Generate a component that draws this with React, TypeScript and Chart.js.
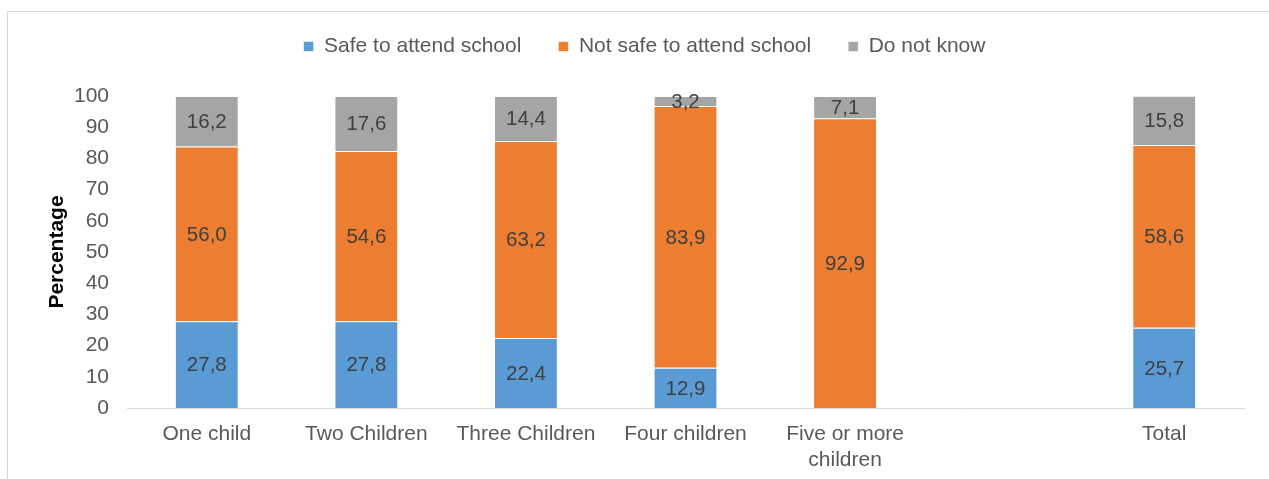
import React, { useEffect, useRef } from "react";
import { Chart, registerables } from "chart.js";

Chart.register(...registerables);

const categories: (string | string[])[] = [
  "One child",
  "Two Children",
  "Three Children",
  "Four children",
  ["Five or more", "children"],
  "",
  "Total",
];
const safeValues: (number | null)[] = [27.8, 27.8, 22.4, 12.9, 0, null, 25.7];
const notSafeValues: (number | null)[] = [56.0, 54.6, 63.2, 83.9, 92.9, null, 58.6];
const dontKnowValues: (number | null)[] = [16.2, 17.6, 14.4, 3.2, 7.1, null, 15.8];
const seriesNames = ["Safe to attend school", "Not safe to attend school", "Do not know"];
const seriesColors = ["#5B9BD5", "#ED7D31", "#A5A5A5"];
const yTicks = { min: 0, max: 100, step: 10 };

const FONT = "'Liberation Sans', Arial, sans-serif";
const FS = 21;
const LEGEND_PAD = 37;
const PAD_LEFT = 45;

const valueLabels = {
  id: "valueLabels",
  afterDatasetsDraw(chart: any) {
    const ctx = chart.ctx;
    ctx.save();
    ctx.font = `20.5px ${FONT}`;
    ctx.fillStyle = "#404040";
    ctx.textAlign = "center";
    ctx.textBaseline = "middle";
    chart.data.datasets.forEach((ds: any, di: number) => {
      const meta = chart.getDatasetMeta(di);
      meta.data.forEach((el: any, i: number) => {
        const v = ds.data[i];
        if (v === null || v === undefined || v <= 0) return;
        const y = (el.y + el.base) / 2;
        ctx.fillText(v.toFixed(1).replace(".", ","), el.x, y + 1);
      });
    });
    ctx.restore();
  },
};

const legendFit = {
  id: "legendFit",
  beforeLayout(chart: any) {
    const lg = chart.legend;
    if (lg && !lg.__patched) {
      const orig = lg.fit.bind(lg);
      lg.fit = function () {
        orig();
        this.height = 96 - (36 - LEGEND_PAD);
      };
      lg.__patched = true;
    }
  },
};

export default function App() {
  const ref = useRef<HTMLCanvasElement>(null);
  useEffect(() => {
    if (!ref.current) return;
    const datasets = [safeValues, notSafeValues, dontKnowValues].map((d, i) => ({
      label: seriesNames[i],
      data: d,
      backgroundColor: seriesColors[i],
      borderColor: "rgba(255,255,255,0.55)",
      borderWidth: 1,
      barPercentage: 0.4,
      categoryPercentage: 1,
    }));
    const chart = new Chart(ref.current, {
      type: "bar",
      data: { labels: categories as any, datasets },
      options: {
        animation: false,
        responsive: true,
        maintainAspectRatio: false,
        layout: { padding: { top: 36 - LEGEND_PAD, left: PAD_LEFT, right: 25, bottom: 0 } },
        plugins: {
          legend: {
            position: "top",
            labels: {
              boxWidth: 10,
              boxHeight: 10,
              padding: LEGEND_PAD,
              color: "#595959",
              font: { family: FONT, size: FS },
            },
          },
          tooltip: { enabled: false },
        },
        scales: {
          x: {
            stacked: true,
            grid: { display: false, drawTicks: false },
            border: { display: true, color: "#D9D9D9", width: 1 },
            ticks: {
              color: "#595959",
              padding: 13,
              maxRotation: 0,
              autoSkip: false,
              font: { family: FONT, size: FS, lineHeight: 1.24 },
            },
            afterFit(scale: any) {
              scale.height = 71;
            },
          },
          y: {
            stacked: true,
            min: yTicks.min,
            max: yTicks.max,
            grid: { display: false, drawTicks: false },
            border: { display: false },
            ticks: {
              stepSize: yTicks.step,
              color: "#595959",
              padding: 18,
              font: { family: FONT, size: FS },
            },
            title: {
              display: true,
              text: "Percentage",
              color: "#000000",
              padding: { top: 0, bottom: 0 },
              font: { family: FONT, size: FS, weight: "bold" },
            },
            afterFit(scale: any) {
              scale.width = 127 - PAD_LEFT;
            },
          },
        },
      },
      plugins: [valueLabels, legendFit],
    });
    return () => chart.destroy();
  }, []);

  return (
    <div style={{ position: "fixed", inset: 0, overflow: "hidden", background: "#fff" }}>
      <div
        style={{
          position: "absolute",
          left: 7,
          top: 11,
          width: 3000,
          height: 3000,
          borderTop: "1px solid #D9D9D9",
          borderLeft: "1px solid #D9D9D9",
        }}
      />
      <div style={{ position: "absolute", left: 0, top: 0, width: 1269, height: 479 }}>
        <canvas ref={ref} />
      </div>
    </div>
  );
}
